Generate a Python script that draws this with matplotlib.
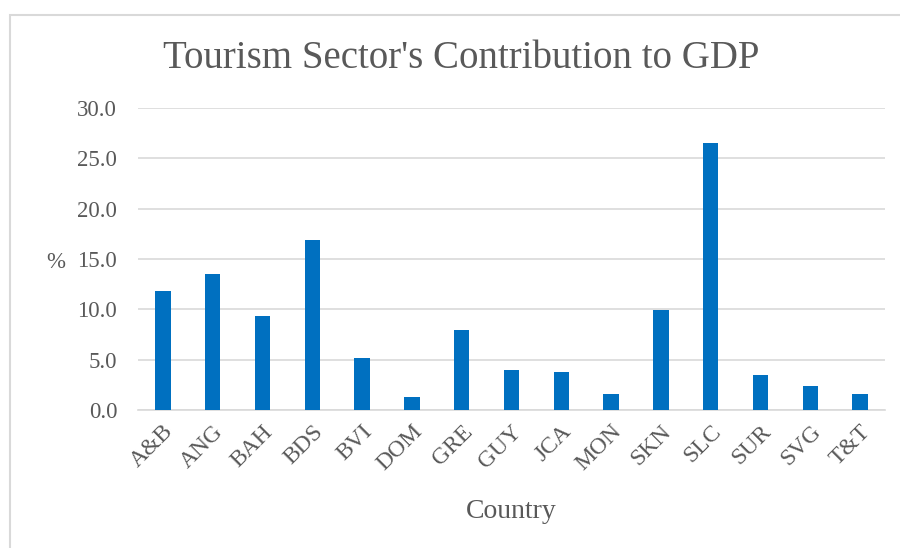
import matplotlib
matplotlib.use("Agg")
import matplotlib.pyplot as plt
from matplotlib.patches import Rectangle

countries = ["A&B", "ANG", "BAH", "BDS", "BVI", "DOM", "GRE", "GUY",
             "JCA", "MON", "SKN", "SLC", "SUR", "SVG", "T&T"]
gdp_share = [11.8, 13.5, 9.3, 16.9, 5.2, 1.3, 7.9, 4.0,
             3.8, 1.6, 9.9, 26.5, 3.5, 2.4, 1.6]
y_ticks = [0, 5, 10, 15, 20, 25, 30]

text_color = "#595959"
grid_color = "#d9d9d9"
plt.rcParams["font.family"] = ["Liberation Serif", "DejaVu Serif"]

fig = plt.figure(figsize=(9, 5.48), dpi=100)
ax = fig.add_axes([138 / 900, 1 - 410 / 548, (885 - 138) / 900, (410 - 108) / 548])

# chart border (runs off the right and bottom edge)
fig.patches.append(Rectangle((10 / 900, -0.1), 1.2, 1 - 15 / 548 + 0.1,
                             transform=fig.transFigure, fill=False,
                             edgecolor=grid_color, linewidth=1.5))

x = range(len(countries))
ax.bar(x, gdp_share, width=0.31, color="#0070c0", zorder=3)

ax.set_xlim(-0.5, len(countries) - 0.5)
ax.set_ylim(0, 30)
ax.set_yticks(y_ticks)
ax.set_yticklabels([f"{v:.1f}" for v in y_ticks])
ax.set_xticks(list(x))
ax.set_xticklabels(countries, rotation=45, ha="right", rotation_mode="anchor")

ax.grid(axis="y", color=grid_color, linewidth=1.2, zorder=0)
for side in ["top", "right", "left"]:
    ax.spines[side].set_visible(False)
ax.spines["bottom"].set_color(grid_color)
ax.spines["bottom"].set_linewidth(1.2)
ax.tick_params(axis="y", length=0, labelsize=16.5, colors=text_color, pad=15)
ax.tick_params(axis="x", length=0, labelsize=17, colors=text_color, pad=8)

fig.text(461 / 900, 1 - 58 / 548, "Tourism Sector's Contribution to GDP",
         ha="center", va="center", fontsize=28, color=text_color)
fig.text(56 / 900, 1 - 262 / 548, "%", ha="center", va="center",
         fontsize=16.5, color=text_color)
fig.text(511 / 900, 1 - 511 / 548, "Country", ha="center", va="center",
         fontsize=20, color=text_color)

fig.savefig("out.png", dpi=100, facecolor="white")
